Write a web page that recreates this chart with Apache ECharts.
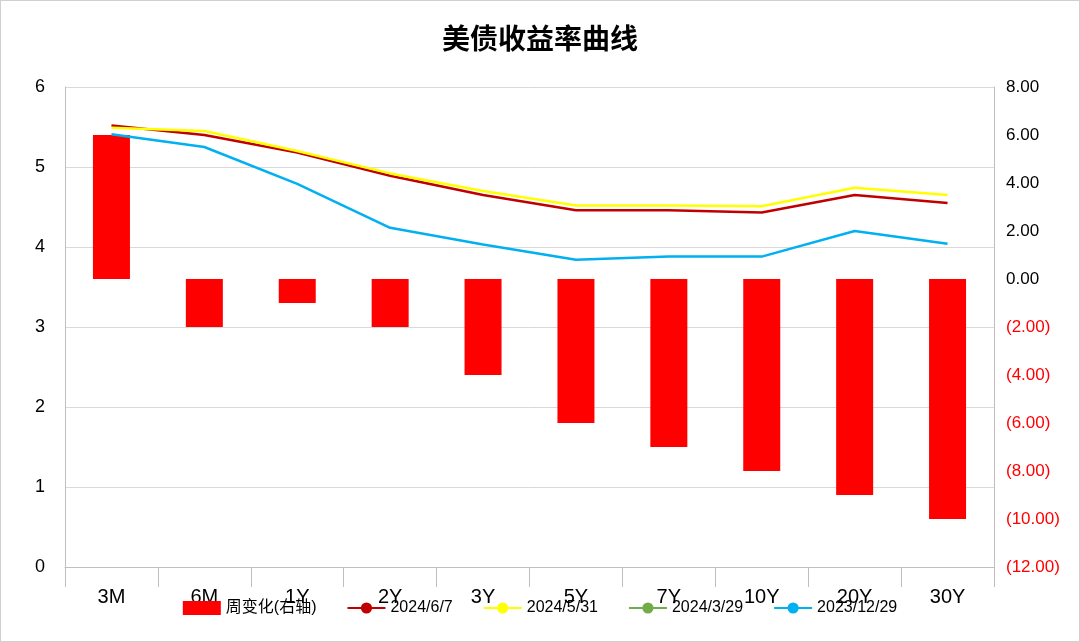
<!DOCTYPE html>
<html><head><meta charset="utf-8">
<script src="https://cdn.jsdelivr.net/npm/echarts@6/dist/echarts.min.js"></script>
<style>html,body{margin:0;padding:0;background:#fff}#c{width:1078px;height:640px;border:1px solid #d0d0d0}</style>
</head><body><div id="c"></div>
<script>
var categories = ['3M','6M','1Y','2Y','3Y','5Y','7Y','10Y','20Y','30Y'];
var weekChange = [6, -2, -1, -2, -4, -6, -7, -8, -9, -10];
var y20240607 = [5.52, 5.40, 5.18, 4.89, 4.65, 4.46, 4.46, 4.43, 4.65, 4.55];
var y20240531 = [5.49, 5.45, 5.20, 4.92, 4.70, 4.52, 4.52, 4.51, 4.74, 4.65];
var y20240329 = [];
var y20231229 = [5.41, 5.25, 4.79, 4.24, 4.03, 3.84, 3.88, 3.88, 4.20, 4.04];

var font = 'Liberation Sans, Noto Sans CJK SC, sans-serif';
var chart = echarts.init(document.getElementById('c'));
chart.setOption({
  animation: false,
  textStyle: {fontFamily: font},
  title: {text: '美债收益率曲线', left: 'center', top: 18,
    textStyle: {fontSize: 28, fontWeight: 'bold', color: '#000', fontFamily: 'Noto Sans CJK SC'}},
  legend: {bottom: 20, itemGap: 30, itemWidth: 38, itemHeight: 14,
    textStyle: {fontSize: 16, color: '#000', fontFamily: font},
    data: [{name: '周变化(右轴)', icon: 'rect'}, '2024/6/7', '2024/5/31', '2024/3/29', '2023/12/29']},
  grid: {left: 64, right: 85, top: 86, bottom: 74},
  xAxis: {type: 'category', data: categories,
    axisLine: {lineStyle: {color: '#bfbfbf'}},
    axisTick: {show: true, length: 20, lineStyle: {color: '#bfbfbf'}},
    axisLabel: {fontSize: 20, color: '#000', margin: 20}},
  yAxis: [
    {type: 'value', min: 0, max: 6, interval: 1,
      axisLine: {show: true, lineStyle: {color: '#bfbfbf'}},
      axisLabel: {fontSize: 18, color: '#000', margin: 20},
      splitLine: {lineStyle: {color: '#d9d9d9'}}},
    {type: 'value', min: -12, max: 8, interval: 2,
      axisLine: {show: true, lineStyle: {color: '#bfbfbf'}},
      splitLine: {show: false},
      axisLabel: {fontSize: 17, margin: 12,
        formatter: function (v) { return v < 0 ? '{n|(' + Math.abs(v).toFixed(2) + ')}' : v.toFixed(2); },
        color: '#000', rich: {n: {color: '#ff0000', fontSize: 17}}}}
  ],
  series: [
    {name: '周变化(右轴)', type: 'bar', yAxisIndex: 1, data: weekChange, barWidth: 37,
      itemStyle: {color: '#ff0000'}},
    {name: '2024/6/7', type: 'line', data: y20240607, symbol: 'none', lineStyle: {color: '#c00000', width: 2.5}, itemStyle: {color: '#c00000'}},
    {name: '2024/5/31', type: 'line', data: y20240531, symbol: 'none', lineStyle: {color: '#ffff00', width: 2.5}, itemStyle: {color: '#ffff00'}},
    {name: '2024/3/29', type: 'line', data: y20240329, symbol: 'none', lineStyle: {color: '#70ad47', width: 2.5}, itemStyle: {color: '#70ad47'}},
    {name: '2023/12/29', type: 'line', data: y20231229, symbol: 'none', lineStyle: {color: '#00b0f0', width: 2.5}, itemStyle: {color: '#00b0f0'}}
  ]
});
</script></body></html>
